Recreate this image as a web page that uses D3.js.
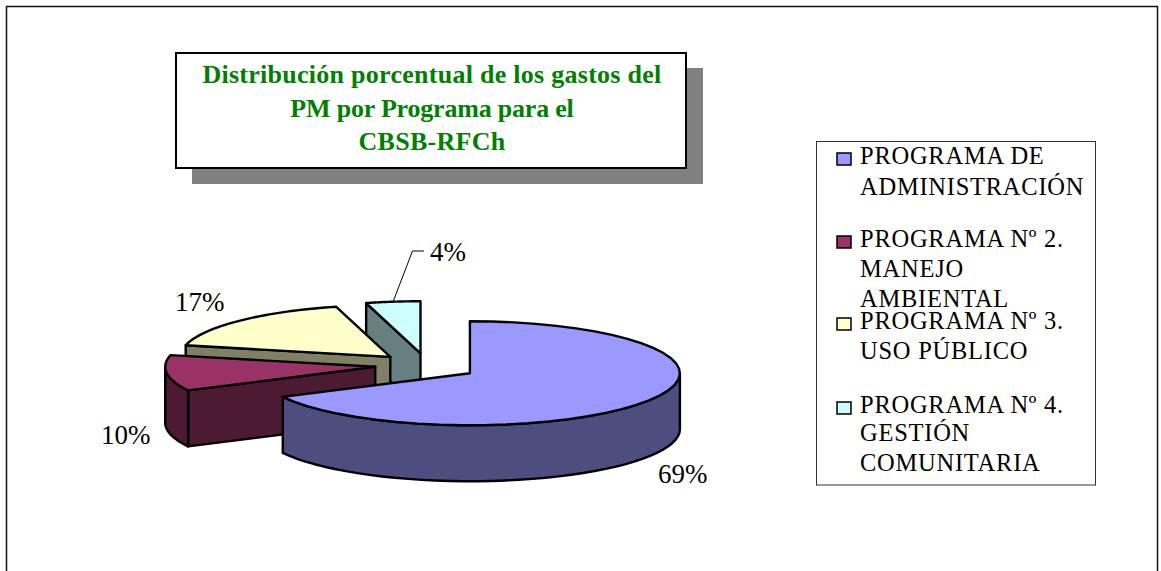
<!DOCTYPE html>
<html><head><meta charset="utf-8">
<script src="https://cdn.jsdelivr.net/npm/d3@7"></script>
<style>html,body{margin:0;padding:0;background:#fff;overflow:hidden}svg{display:block}text{font-family:"Liberation Serif",serif}</style>
</head><body><svg id="c" width="1161" height="571"></svg>
<script>
const categories = ["PROGRAMA DE ADMINISTRACIÓN","PROGRAMA Nº 2. MANEJO AMBIENTAL","PROGRAMA Nº 3. USO PÚBLICO","PROGRAMA Nº 4. GESTIÓN COMUNITARIA"];
const values = [69,10,17,4];
const valueLabels = ["69%","10%","17%","4%"];
const topColors = ["#9999FF","#993366","#FFFFCC","#CCFFFF"];
const sideColors = ["#4D4D80","#4D1A33","#808066","#668080"];
const titleLines = ["Distribución porcentual de los gastos del","PM por Programa para el","CBSB-RFCh"];
const legendLines = [["PROGRAMA DE","ADMINISTRACIÓN"],["PROGRAMA Nº 2.","MANEJO","AMBIENTAL"],["PROGRAMA Nº 3.","USO PÚBLICO"],["PROGRAMA Nº 4.","GESTIÓN","COMUNITARIA"]];

const svg = d3.select("#c");
// frame
svg.append("path").attr("d","M6.5,575V6.5H1157.5V575").attr("fill","none").attr("stroke","#111").attr("stroke-width",1.5);

// title box
svg.append("rect").attr("x",192).attr("y",68).attr("width",511).attr("height",116).attr("fill","#808080");
svg.append("rect").attr("x",176).attr("y",53).attr("width",510).attr("height",115).attr("fill","#fff").attr("stroke","#000").attr("stroke-width",2);
const titleY = [83,117,150];
svg.selectAll("text.t").data(titleLines).join("text").attr("class","t")
  .attr("x",432).attr("y",(d,i)=>titleY[i]).attr("text-anchor","middle")
  .attr("font-size",26).attr("font-weight","bold").attr("fill","#008000").attr("letter-spacing",(d,i)=>i===1?-0.2:0.27).text(d=>d);

// 3D pie
const cx=427, cy=366, rx=210, ry=52, depth=56, explode=0.247;
const deg=Math.PI/180;
const warp=d3.scaleLinear().domain([0,180,248.4,284.4,345.6,360]).range([0,180,243,283,345,360]);
const arcs=d3.pie().sort(null).value(d=>d).startAngle(0).endAngle(2*Math.PI)(values);
const slices=arcs.map((a,i)=>{
  const s=warp(a.startAngle/deg), e=warp(a.endAngle/deg), m=(a.startAngle+a.endAngle)/2;
  return {i,s,e,ax:cx+explode*rx*Math.sin(m),ay:cy-explode*ry*Math.cos(m)};
});
const P=(sl,t,z=0)=>[sl.ax+rx*Math.sin(t*deg), sl.ay-ry*Math.cos(t*deg)+z];
const line=d3.line();
function rim(sl,a,b,z){ return d3.range(0,41).map(k=>P(sl,a+(b-a)*k/40,z)); }
const g=svg.append("g").attr("stroke","#000").attr("stroke-width",2.4).attr("stroke-linejoin","round");
[3,2,1,0].forEach(idx=>{
  const sl=slices[idx];
  const wall=(t)=>{const o=[sl.ax,sl.ay],p=P(sl,t);
    g.append("path").attr("d",line([o,p,[p[0],p[1]+depth],[o[0],o[1]+depth]])+"Z").attr("fill",sideColors[idx]);};
  if(Math.sin(sl.s*deg)<-1e-6) wall(sl.s);
  if(Math.sin(sl.e*deg)>1e-6) wall(sl.e);
  const a=Math.max(sl.s,90), b=Math.min(sl.e,270);
  if(b>a){
    const top=rim(sl,a,b,0), bot=rim(sl,a,b,depth).reverse();
    g.append("path").attr("d",line(top.concat(bot))+"Z").attr("fill",sideColors[idx]);
  }
  g.append("path").attr("d",line([[sl.ax,sl.ay]].concat(rim(sl,sl.s,sl.e,0)))+"Z").attr("fill",topColors[idx]);
});

// value labels
const labelPos=[[658,483],[101,444],[175,311],[430,261]];
svg.selectAll("text.v").data(valueLabels).join("text").attr("class","v")
  .attr("x",(d,i)=>labelPos[i][0]).attr("y",(d,i)=>labelPos[i][1]).attr("font-size",27).attr("fill","#000").text(d=>d);
const cs=slices[3];
const anchor=P(cs,(cs.s+cs.e)/2);
svg.append("path").attr("d",line([anchor,[412.5,251],[424,251]])).attr("fill","none").attr("stroke","#000").attr("stroke-width",1);

// legend
svg.append("rect").attr("x",816.5).attr("y",141.5).attr("width",279).attr("height",343.5).attr("fill","#fff").attr("stroke","#333").attr("stroke-width",1);
const markerY=[153,236,318,402];
const baselines=[[164,195],[247,277,306.5],[329,358.5],[412.5,441,470.5]];
legendLines.forEach((lines,i)=>{
  svg.append("rect").attr("x",837).attr("y",markerY[i]).attr("width",14).attr("height",12).attr("fill",topColors[i]).attr("stroke","#000").attr("stroke-width",1.5);
  lines.forEach((l,j)=>svg.append("text").attr("x",860).attr("y",baselines[i][j]).attr("font-size",24.5).attr("letter-spacing",0.75).attr("fill","#000").text(l));
});
</script></body></html>
